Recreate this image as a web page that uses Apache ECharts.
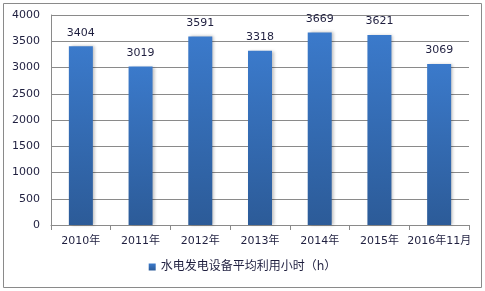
<!DOCTYPE html>
<html>
<head>
<meta charset="utf-8">
<script src="https://cdn.jsdelivr.net/npm/echarts@6/dist/echarts.min.js"></script>
<style>
  html, body { margin: 0; padding: 0; background: #fff; }
  #chart { width: 485px; height: 291px; }
</style>
</head>
<body>
<div id="chart"></div>
<script>
// data
const categories = ['2010年', '2011年', '2012年', '2013年', '2014年', '2015年', '2016年11月'];
const hours = [3404, 3019, 3591, 3318, 3669, 3621, 3069];
const seriesName = '水电发电设备平均利用小时（h）';

const font = '"DejaVu Sans", "Noto Sans CJK SC", sans-serif';
const textColor = '#1f1f3f';
const lineColor = '#8a8a8a';

const chart = echarts.init(document.getElementById('chart'), null, {renderer: 'canvas'});

chart.setOption({
    animation: false,
    backgroundColor: '#fff',
    textStyle: {fontFamily: font},
    graphic: [{
        type: 'rect',
        shape: {x: 3.5, y: 3.5, width: 478, height: 284},
        style: {fill: 'none', stroke: lineColor, lineWidth: 1},
        silent: true,
    }],
    grid: {left: 51, right: 16, top: 15, bottom: 66, containLabel: false},
    legend: {
        bottom: 13,
        left: 'center',
        itemWidth: 7,
        itemHeight: 7,
        itemGap: 5,
        icon: 'rect',
        textStyle: {fontSize: 12, letterSpacing: 1.6, color: textColor, fontFamily: font},
        data: [seriesName],
    },
    xAxis: {
        type: 'category',
        data: categories,
        axisLine: {show: true, lineStyle: {color: lineColor, width: 1}},
        axisTick: {show: true, length: 5, lineStyle: {color: lineColor}},
        axisLabel: {color: textColor, fontSize: 11, margin: 11, interval: 0},
    },
    yAxis: {
        type: 'value',
        min: 0,
        max: 4000,
        interval: 500,
        axisLine: {show: true, lineStyle: {color: lineColor, width: 1}},
        axisTick: {show: false},
        axisLabel: {color: textColor, fontSize: 11, margin: 11, formatter: v => String(v)},
        splitLine: {show: true, lineStyle: {color: lineColor, width: 1}},
    },
    series: [{
        name: seriesName,
        type: 'bar',
        data: hours,
        barWidth: 24,
        itemStyle: {
            color: new echarts.graphic.LinearGradient(0, 0, 0, 1, [
                {offset: 0, color: '#3b7acb'},
                {offset: 1, color: '#2c5b98'},
            ]),
            shadowColor: 'rgba(0,0,0,0.25)',
            shadowBlur: 3,
            shadowOffsetX: 2,
        },
        label: {
            show: true,
            position: 'top',
            distance: 8,
            color: textColor,
            fontSize: 11,
        },
    }],
});
</script>
</body>
</html>
